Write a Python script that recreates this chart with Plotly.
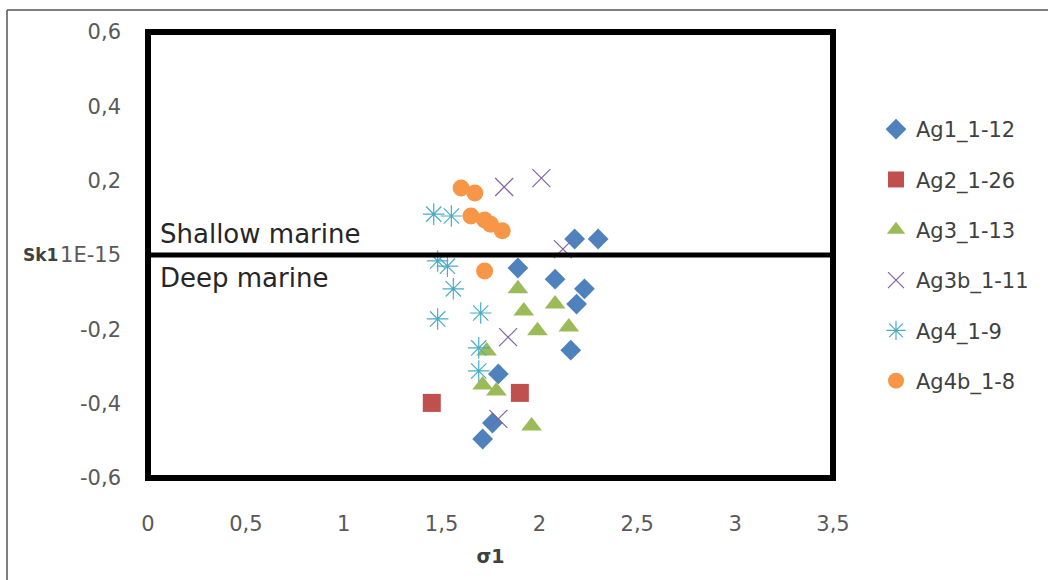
import plotly.graph_objects as go

ag1_x = [2.18, 2.30, 1.89, 2.08, 2.23, 2.19, 2.16, 1.79, 1.76, 1.71]
ag1_y = [0.043, 0.043, -0.035, -0.065, -0.091, -0.132, -0.256, -0.320, -0.452, -0.495]
ag2_x = [1.45, 1.90]
ag2_y = [-0.398, -0.371]
ag3_x = [1.89, 1.92, 2.08, 1.99, 2.15, 1.73, 1.71, 1.78, 1.96]
ag3_y = [-0.091, -0.151, -0.132, -0.204, -0.194, -0.258, -0.350, -0.366, -0.460]
ag3b_x = [1.82, 2.01, 2.12, 1.84, 1.79]
ag3b_y = [0.183, 0.207, 0.016, -0.221, -0.441]
ag4_x = [1.46, 1.55, 1.48, 1.53, 1.56, 1.48, 1.70, 1.69, 1.69]
ag4_y = [0.110, 0.105, -0.016, -0.030, -0.091, -0.172, -0.156, -0.250, -0.312]
ag4b_x = [1.60, 1.67, 1.65, 1.72, 1.75, 1.81, 1.72]
ag4b_y = [0.180, 0.167, 0.105, 0.094, 0.083, 0.065, -0.043]

x_ticks = [0, 0.5, 1, 1.5, 2, 2.5, 3, 3.5]
x_labels = ["0", "0,5", "1", "1,5", "2", "2,5", "3", "3,5"]
y_ticks = [0.6, 0.4, 0.2, 0, -0.2, -0.4, -0.6]
y_labels = ["0,6", "0,4", "0,2", "1E-15", "-0,2", "-0,4", "-0,6"]

series = [
    ("Ag1_1-12", ag1_x, ag1_y, "diamond", "#4F81BD", 16),
    ("Ag2_1-26", ag2_x, ag2_y, "square", "#C0504D", 18),
    ("Ag3_1-13", ag3_x, ag3_y, "triangle-up", "#9BBB59", 18),
    ("Ag3b_1-11", ag3b_x, ag3b_y, "x-thin-open", "#8064A2", 18),
    ("Ag4_1-9", ag4_x, ag4_y, "asterisk-open", "#4BACC6", 18),
    ("Ag4b_1-8", ag4b_x, ag4b_y, "circle", "#F79646", 17),
]

FONT = "'DejaVu Sans', sans-serif"
fig = go.Figure()
for i, (name, xs, ys, sym, col, sz) in enumerate(series):
    open_sym = sym.endswith("open")
    fig.add_trace(go.Scatter(
        x=xs, y=ys, mode="markers", name=name, legendgroup=str(i),
        marker=dict(symbol=sym, color=col, size=sz,
                    line=dict(color=col, width=1.2 if open_sym else 0)),
    ))

W, H = 1048, 580
L, R, T, B = 148, 833, 32, 478

def px(xp):
    return (xp - L) / (R - L)

def py(yp):
    return (B - yp) / (B - T)

# thick frame (paper refs so it is not clipped)
fig.add_shape(type="rect", x0=0, x1=1, y0=0, y1=1, xref="paper", yref="paper",
              line=dict(color="black", width=6))
fig.add_shape(type="line", x0=0, x1=1, y0=0, y1=0, xref="paper", yref="y",
              line=dict(color="black", width=5))
# outer thin border
fig.add_shape(type="line", xref="paper", yref="paper", x0=px(7), x1=px(1048),
              y0=py(10), y1=py(10), line=dict(color="#555555", width=1.5))
fig.add_shape(type="line", xref="paper", yref="paper", x0=px(7), x1=px(7),
              y0=py(10), y1=py(580), line=dict(color="#555555", width=1.5))

fig.add_annotation(x=0.05, y=0.0, xref="x", yref="y", text="Shallow marine",
                   showarrow=False, xanchor="left", yanchor="bottom", yshift=4,
                   font=dict(family=FONT, size=26, color="#262626"))
fig.add_annotation(x=0.05, y=0.0, xref="x", yref="y", text="Deep marine",
                   showarrow=False, xanchor="left", yanchor="top", yshift=-6,
                   font=dict(family=FONT, size=26, color="#262626"))
fig.add_annotation(x=px(40), y=0, xref="paper", yref="y", text="<b>Sk1</b>",
                   showarrow=False, xanchor="center", yanchor="middle",
                   font=dict(family=FONT, size=17, color="#404040"))

fig.update_layout(
    width=W, height=H,
    margin=dict(l=L, r=W - R, t=T, b=H - B),
    paper_bgcolor="white", plot_bgcolor="white",
    font=dict(family=FONT, size=21, color="#595959"),
    showlegend=True,
    legend=dict(x=px(876), y=py(109), xanchor="left", yanchor="top",
                tracegroupgap=20, itemwidth=30,
                font=dict(family=FONT, size=21, color="#404040")),
    xaxis=dict(range=[0, 3.5], tickvals=x_ticks, ticktext=x_labels,
               showgrid=False, zeroline=False, showline=False, ticks="",
               ticklabelstandoff=31,
               title=dict(text="<b>σ1</b>", font=dict(family=FONT, size=19, color="#404040"),
                          standoff=14)),
    yaxis=dict(range=[-0.6, 0.6], tickvals=y_ticks, ticktext=y_labels,
               showgrid=False, zeroline=False, showline=False, ticks="",
               ticklabelstandoff=26),
)

fig.write_html("out.html", config={"displayModeBar": False},
               post_script="document.body.style.margin='0';")
